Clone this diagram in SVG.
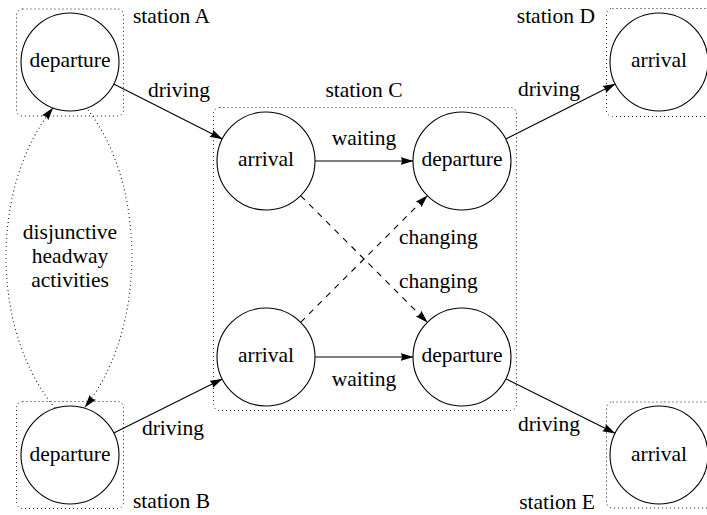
<svg xmlns="http://www.w3.org/2000/svg" width="707" height="515" viewBox="0 0 707 515">
  <style>
    text { font-family: "Liberation Serif", "Times New Roman", serif; font-size: 21.5px; fill: #000; }
    .mid { text-anchor: middle; }
    .end { text-anchor: end; }
    .station { fill: none; stroke: #000; stroke-width: 1; stroke-dasharray: 0.9 3.1; }
    .event { fill: #fff; stroke: #000; stroke-width: 1.1; }
    .edge { fill: none; stroke: #000; stroke-width: 1.1; marker-end: url(#tip); }
    .dashed { stroke-dasharray: 6 6; }
    .dotted { stroke-dasharray: 0.9 3.1; }
  </style>
  <defs>
    <marker id="tip" viewBox="0 0 13 8.5" refX="12.5" refY="4.25" markerWidth="13" markerHeight="8.5" markerUnits="userSpaceOnUse" orient="auto">
      <path d="M0,0.3 L13,4.25 L0,8.2 Q2.8,4.25 0,0.3 z" fill="#000"/>
    </marker>
  </defs>
  <rect width="707" height="515" fill="#fff"/>

  <!-- station frames -->
  <g id="station-A">
    <rect class="station" x="16.5" y="9" width="107" height="107" rx="6"/>
    <text x="133" y="23">station A</text>
  </g>
  <g id="station-B">
    <rect class="station" x="16.5" y="401.5" width="107" height="107" rx="6"/>
    <text x="133" y="508">station B</text>
  </g>
  <g id="station-C">
    <rect class="station" x="213.5" y="107.5" width="303" height="303" rx="6"/>
    <text class="mid" x="364" y="97">station C</text>
  </g>
  <g id="station-D">
    <rect class="station" x="606.5" y="8.5" width="107" height="108" rx="6"/>
    <text class="end" x="595" y="23">station D</text>
  </g>
  <g id="station-E">
    <rect class="station" x="606.5" y="402" width="107" height="106" rx="6"/>
    <text class="end" x="595" y="509">station E</text>
  </g>

  <!-- connectors -->
  <g id="connectors">
    <line class="edge" x1="113.7" y1="84.1" x2="222.3" y2="138.9"/>
    <line class="edge" x1="113.8" y1="433.1" x2="222.2" y2="378.9"/>
    <line class="edge" x1="505.8" y1="139" x2="615.2" y2="84"/>
    <line class="edge" x1="505.9" y1="378.8" x2="615.1" y2="433.2"/>
    <line class="edge" x1="315" y1="161" x2="413" y2="161"/>
    <line class="edge" x1="315" y1="357" x2="413" y2="357"/>
    <line class="edge dashed" x1="300.6" y1="195.6" x2="427.4" y2="322.4"/>
    <line class="edge dashed" x1="300.6" y1="322.4" x2="427.4" y2="195.6"/>
    <path class="edge dotted" d="M55,408 C-10,330 -10,186 53,108"/>
    <path class="edge dotted" d="M88,110 C147,186 147,330 85,407"/>
    <text class="mid" x="179" y="97">driving</text>
    <text class="mid" x="173" y="435">driving</text>
    <text class="mid" x="549" y="96">driving</text>
    <text class="mid" x="549" y="431">driving</text>
    <text class="mid" x="364" y="145">waiting</text>
    <text class="mid" x="364" y="386">waiting</text>
    <text x="399" y="244">changing</text>
    <text x="399" y="288">changing</text>
    <text class="mid" x="70" y="239">disjunctive</text>
    <text class="mid" x="70" y="263">headway</text>
    <text class="mid" x="70" y="287">activities</text>
  </g>

  <!-- events -->
  <g id="dep-A">
    <circle class="event" cx="70" cy="62" r="49"/>
    <text class="mid" x="70" y="67">departure</text>
  </g>
  <g id="dep-B">
    <circle class="event" cx="70" cy="455" r="49"/>
    <text class="mid" x="70" y="461">departure</text>
  </g>
  <g id="arr-C1">
    <circle class="event" cx="266" cy="161" r="49"/>
    <text class="mid" x="266" y="166">arrival</text>
  </g>
  <g id="dep-C1">
    <circle class="event" cx="462" cy="161" r="49"/>
    <text class="mid" x="462" y="166">departure</text>
  </g>
  <g id="arr-C2">
    <circle class="event" cx="266" cy="357" r="49"/>
    <text class="mid" x="266" y="362">arrival</text>
  </g>
  <g id="dep-C2">
    <circle class="event" cx="462" cy="357" r="49"/>
    <text class="mid" x="462" y="362">departure</text>
  </g>
  <g id="arr-D">
    <circle class="event" cx="659" cy="62" r="49"/>
    <text class="mid" x="659" y="67">arrival</text>
  </g>
  <g id="arr-E">
    <circle class="event" cx="659" cy="455" r="49"/>
    <text class="mid" x="659" y="461">arrival</text>
  </g>
</svg>
